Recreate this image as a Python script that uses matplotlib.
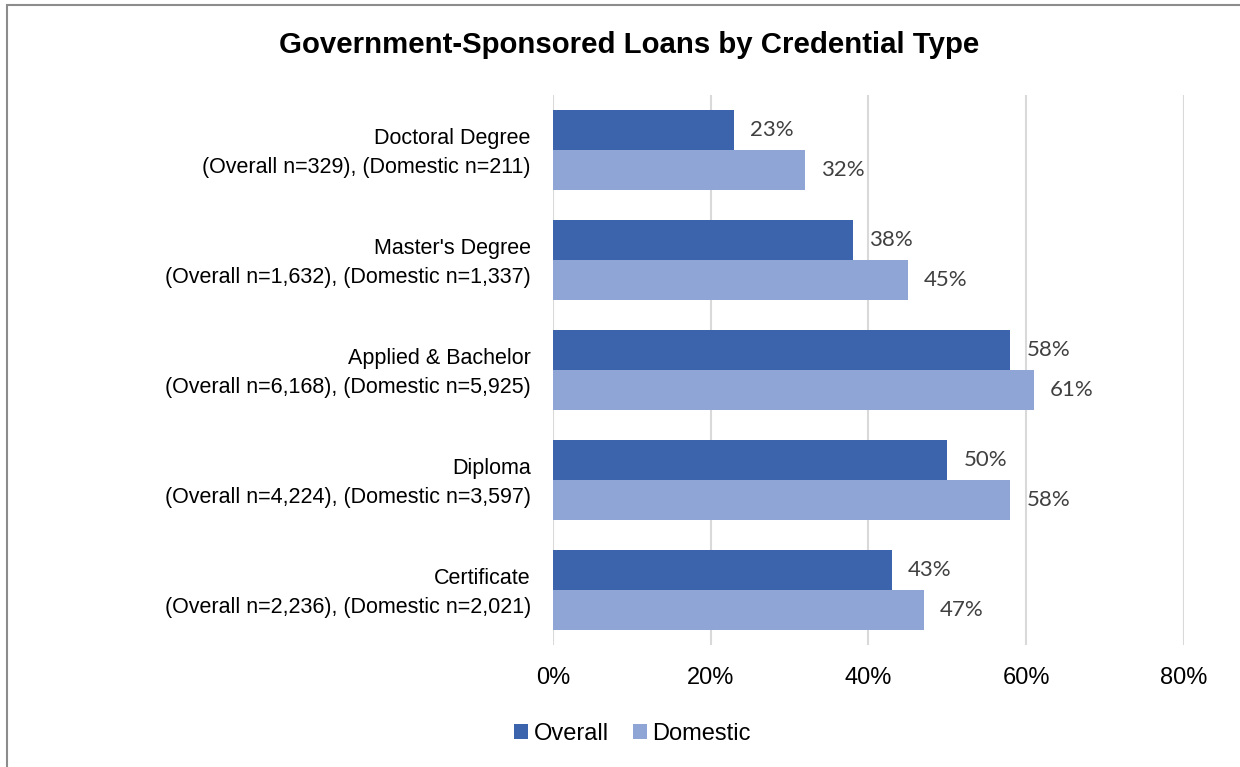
import numpy as np
import matplotlib.pyplot as plt
from matplotlib.patches import Rectangle

# Share of graduates with government-sponsored loans, by credential
credentials = [
    "Doctoral Degree\n(Overall n=329), (Domestic n=211)",
    "Master's Degree\n(Overall n=1,632), (Domestic n=1,337)",
    "Applied & Bachelor\n(Overall n=6,168), (Domestic n=5,925)",
    "Diploma\n(Overall n=4,224), (Domestic n=3,597)",
    "Certificate\n(Overall n=2,236), (Domestic n=2,021)",
]
overall = [23, 38, 58, 50, 43]
domestic = [32, 45, 61, 58, 47]
x_ticks = [0, 20, 40, 60, 80]

c_overall = "#3C64AD"
c_domestic = "#8FA5D5"

fig = plt.figure(figsize=(12.4, 7.67), dpi=100)
ax = fig.add_axes([0.446, 0.159, 0.5088, 0.717])

y = np.arange(len(credentials))
h = 40 / 110
ax.barh(y - h / 2, overall, height=h, color=c_overall, label="Overall", zorder=3)
ax.barh(y + h / 2, domestic, height=h, color=c_domestic, label="Domestic", zorder=3)

for yi, v in zip(y, overall):
    ax.annotate(f"{v}%", (v, yi - h / 2), xytext=(11.5, 0), textcoords="offset points",
                va="center", ha="left", fontsize=16, color="#404040", family="Lato")
for yi, v in zip(y, domestic):
    ax.annotate(f"{v}%", (v, yi + h / 2), xytext=(11.5, 0), textcoords="offset points",
                va="center", ha="left", fontsize=16, color="#404040", family="Lato")

ax.set_ylim(len(credentials) - 0.5, -0.5)
ax.set_xlim(0, 80)
ax.set_yticks(y)
ax.set_yticklabels([])
# category labels, two lines each, drawn left of the axis
for yi, name in zip(y, credentials):
    ax.annotate(name, (0, yi), xycoords=ax.get_yaxis_transform(), xytext=(-16, -2.2),
                textcoords="offset points", ha="right", va="center", multialignment="right",
                fontsize=15.5, family="Liberation Sans", linespacing=1.52)
ax.set_xticks(x_ticks)
ax.set_xticklabels([f"{t}%" for t in x_ticks], fontsize=17, family="Liberation Sans")
ax.tick_params(length=0)
ax.tick_params(axis="x", pad=16)
for s in ax.spines.values():
    s.set_visible(False)
ax.grid(axis="x", color="#D9D9D9", linewidth=1.5, zorder=0)
ax.set_axisbelow(True)

fig.text(0.507, 0.941, "Government-Sponsored Loans by Credential Type", ha="center", va="center",
         fontsize=21.2, fontweight="bold", family="Liberation Sans")

leg = fig.legend(loc="center", bbox_to_anchor=(0.51, 0.043), ncol=2, frameon=False,
                 prop={"family": "Liberation Sans", "size": 17},
                 handlelength=0.6, handleheight=0.6, handletextpad=0.25, columnspacing=1.0)

# chart frame
fig.patches.append(Rectangle((7 / 1240, -0.1), 1.2, (767 - 5) / 767 + 0.1, transform=fig.transFigure,
                             fill=False, edgecolor="#8C8C8C", linewidth=1.5))

fig.savefig("out.png", dpi=100)
